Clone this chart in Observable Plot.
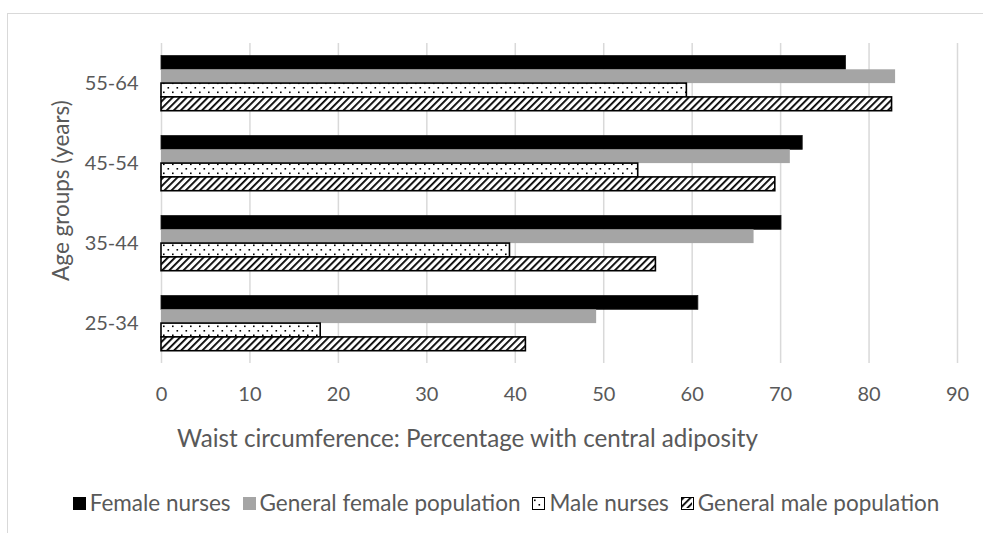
<!DOCTYPE html>
<html>
<head>
<meta charset="utf-8">
<script src="https://cdn.jsdelivr.net/npm/d3@7"></script>
<script src="https://cdn.jsdelivr.net/npm/@observablehq/plot@0.6"></script>
<style>
  html, body { margin: 0; padding: 0; background: #fff; }
  #wrap { position: relative; width: 983px; height: 533px; overflow: hidden; font-family: Lato, sans-serif; color: #595959; }
  #frame { position: absolute; left: 7px; top: 13px; width: 1200px; height: 800px; border-top: 1px solid #d9d9d9; border-left: 1px solid #d9d9d9; }
  #chart { position: absolute; left: 0; top: 0; }
  #legend { position: absolute; top: 490px; left: 0; width: 983px; display: flex; justify-content: center; padding-left: 29px; box-sizing: border-box; font-size: 22.5px; line-height: 26px; white-space: nowrap; }
  .item { display: inline-flex; align-items: center; margin: 0 6px; }
  .sw { width: 13px; height: 13px; margin-right: 4px; box-sizing: border-box; }
</style>
</head>
<body>
<div id="wrap">
  <div id="frame"></div>
  <div id="chart"></div>
  <div id="legend"></div>
</div>
<script>
const ages = ["55-64", "45-54", "35-44", "25-34"];
const series = ["Female nurses", "General female population", "Male nurses", "General male population"];
const femaleNurses = [77.4, 72.5, 70.1, 60.7];
const generalFemale = [83.0, 71.1, 67.0, 49.2];
const maleNurses = [59.4, 53.9, 39.4, 18.0];
const generalMale = [82.6, 69.4, 55.9, 41.2];
const xTicks = [0, 10, 20, 30, 40, 50, 60, 70, 80, 90];
const xTitle = "Waist circumference: Percentage with central adiposity";
const yTitle = "Age groups (years)";

const valuesBySeries = [femaleNurses, generalFemale, maleNurses, generalMale];
const fills = ["#000000", "#a5a5a5", "url(#dots)", "url(#hatch)"];
const strokes = ["#1a1a1a", "none", "#000000", "#000000"];

const bandStep = 80, groupTop = 12.5, barH = 13.8;

const barMarks = series.map((s, i) => {
  const rows = ages.map((a, j) => ({age: a, series: s, value: valuesBySeries[i][j]}));
  return Plot.barX(rows, {
    x: "value",
    y: "age",
    fill: fills[i],
    stroke: strokes[i],
    strokeWidth: i >= 2 ? 1.6 : 0.8,
    insetTop: groupTop + barH * i,
    insetBottom: bandStep - groupTop - barH * (i + 1)
  });
});

const chart = Plot.plot({
  width: 983,
  height: 460,
  marginLeft: 161,
  marginRight: 26,
  marginTop: 43,
  marginBottom: 97,
  style: {fontFamily: "Lato, sans-serif", fontSize: "20px", color: "#595959", background: "transparent", overflow: "visible"},
  x: {domain: [0, 90]},
  y: {domain: ages, padding: 0},
  marks: [
    Plot.ruleX(xTicks, {stroke: "#d9d9d9", strokeWidth: 1.5}),
    ...barMarks,
    Plot.axisX({ticks: xTicks, tickSize: 0, tickPadding: 23, fontSize: 20, label: null}),
    Plot.axisY({tickSize: 0, tickPadding: 23, fontSize: 20, label: null}),
    Plot.text([xTitle], {frameAnchor: "bottom", textAnchor: "middle", lineAnchor: "middle", dx: -92, dy: 76, fontSize: 24.2, fill: "#595959"}),
    Plot.text([yTitle], {frameAnchor: "left", textAnchor: "middle", lineAnchor: "middle", rotate: -90, dx: -100, dy: -13, fontSize: 22.5, fill: "#595959"})
  ]
});

const defs = d3.select(chart).insert("defs", ":first-child");
defs.html(`
  <pattern id="dots" patternUnits="userSpaceOnUse" width="9" height="9">
    <rect width="9" height="9" fill="#fff"/>
    <rect x="1" y="1.5" width="1.6" height="1.6" fill="#000"/>
    <rect x="5.5" y="6" width="1.6" height="1.6" fill="#000"/>
  </pattern>
  <pattern id="hatch" patternUnits="userSpaceOnUse" width="5" height="5" patternTransform="rotate(45)">
    <rect width="5" height="5" fill="#fff"/>
    <rect x="0" y="0" width="1.8" height="5" fill="#000"/>
  </pattern>
`);
document.getElementById("chart").appendChild(chart);

// legend
const legend = d3.select("#legend");
const swatchStyles = [
  "background:#000;",
  "background:#a5a5a5;",
  "border:1.5px solid #000;background:#fff;",
  "border:1.5px solid #000;"
];
series.forEach((s, i) => {
  const item = legend.append("div").attr("class", "item");
  const sw = item.append("div").attr("class", "sw").attr("style", swatchStyles[i]);
  if (i >= 2) {
    const svg = sw.append("svg").attr("width", 10).attr("height", 10).style("display", "block");
    svg.append("rect").attr("width", 10).attr("height", 10).attr("fill", i === 2 ? "url(#dots)" : "url(#hatch)");
  }
  item.append("span").text(s);
});
</script>
</body>
</html>
